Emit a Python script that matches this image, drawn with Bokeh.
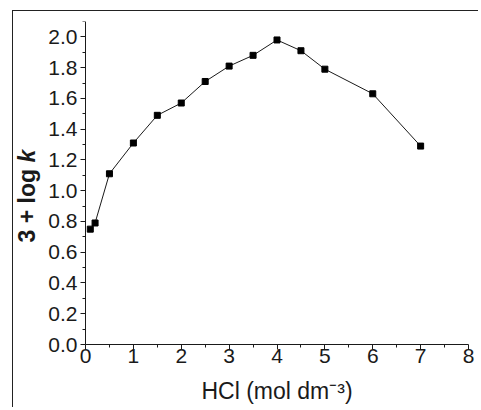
from bokeh.plotting import figure
from bokeh.models import FixedTicker, Range1d, Label, PrintfTickFormatter
from bokeh.embed import file_html
from bokeh.resources import INLINE
import math

hcl = [0.1, 0.2, 0.5, 1.0, 1.5, 2.0, 2.5, 3.0, 3.5, 4.0, 4.5, 5.0, 6.0, 7.0]
logk = [0.75, 0.79, 1.11, 1.31, 1.49, 1.57, 1.71, 1.81, 1.88, 1.98, 1.91, 1.79, 1.63, 1.29]

x_major = [0, 1, 2, 3, 4, 5, 6, 7, 8]
x_minor = [0.5, 1.5, 2.5, 3.5, 4.5, 5.5, 6.5, 7.5]
y_major = [0.0, 0.2, 0.4, 0.6, 0.8, 1.0, 1.2, 1.4, 1.6, 1.8, 2.0]
y_minor = [0.1, 0.3, 0.5, 0.7, 0.9, 1.1, 1.3, 1.5, 1.7, 1.9, 2.1]
x_title = "HCl (mol dm⁻³)"

FONT = "Liberation Sans"
INK = "#1a1a1a"

# frame covers the canvas; axes are pinned at x=0 / y=0 inside it so labels fit
PX_X = 383 / 8                      # pixels per x unit
PX_Y = 323 / 2.1                    # pixels per y unit
X_LEFT = -71 / PX_X                 # canvas x 1 .. 465, x=0 at canvas 72, x=8 at 455
X_RIGHT = 8 + 10 / PX_X
Y_BOTTOM = -(396 - 333) / PX_Y      # canvas y 10 .. 396, y=0 at canvas 333

p = figure(width=466, height=397, output_backend="svg", toolbar_location=None,
           x_range=Range1d(X_LEFT, X_RIGHT), y_range=Range1d(Y_BOTTOM, 2.1),
           min_border_left=1, min_border_right=1, min_border_top=10, min_border_bottom=1,
           margin=(10, 0, 0, 12),
           styles={"border-left": "1px solid #222", "border-top": "1px solid #222"})
p.grid.visible = False
p.outline_line_color = None
p.background_fill_color = "white"
p.border_fill_color = "white"

p.xaxis.ticker = FixedTicker(ticks=x_major, minor_ticks=x_minor)
p.yaxis.ticker = FixedTicker(ticks=y_major, minor_ticks=y_minor)
p.yaxis.formatter = PrintfTickFormatter(format="%.1f")
p.yaxis.fixed_location = 0
p.xaxis.fixed_location = 0
p.xaxis.bounds = (0, 8)
p.yaxis.bounds = (0, 2.1)

for ax in (p.xaxis, p.yaxis):
    ax.major_tick_in = 0
    ax.major_tick_out = 5
    ax.minor_tick_in = 0
    ax.minor_tick_out = 3
    ax.axis_line_color = INK
    ax.major_tick_line_color = INK
    ax.minor_tick_line_color = INK
    ax.major_label_text_font = FONT
    ax.major_label_text_font_size = "21px"
    ax.major_label_text_color = INK

p.xaxis.major_label_standoff = -1
p.yaxis.major_label_standoff = 3

p.line(hcl, logk, line_color=INK, line_width=1)
p.scatter(hcl, logk, marker="square", size=6, fill_color="black", line_color="black")

xlab = Label(x=4, y=17, x_units="data", y_units="screen", text=x_title,
             text_font=FONT, text_font_size="23px", text_color=INK,
             text_align="center", text_baseline="middle")
lab1 = Label(x=12, y=165, x_units="screen", y_units="screen", text="3 + log ",
             angle=math.pi / 2, text_font=FONT, text_font_size="23px",
             text_font_style="bold", text_color=INK, text_align="left", text_baseline="middle")
lab2 = Label(x=12, y=245, x_units="screen", y_units="screen", text="k",
             angle=math.pi / 2, text_font=FONT, text_font_size="23px",
             text_font_style="bold italic", text_color=INK, text_align="left", text_baseline="middle")
p.add_layout(xlab)
p.add_layout(lab1)
p.add_layout(lab2)

open("out.html", "w").write(file_html(p, INLINE))
